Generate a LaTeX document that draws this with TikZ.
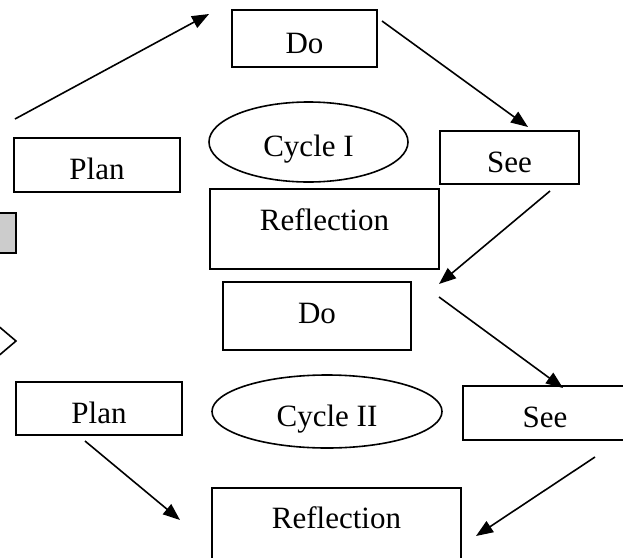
\documentclass[tikz,border=0pt]{standalone}
\usepackage{fontspec}
\setmainfont{Liberation Serif}
\usetikzlibrary{arrows.meta,shapes.geometric}
\tikzset{
  base/.style={draw=black, line width=1.6pt, inner sep=0pt, font=\fontsize{31}{37}\selectfont,
    text height=29pt, text depth=0pt},
  boxnode/.style={base, rectangle},
  ellnode/.style={base, ellipse},
  arr/.style={line width=1.6pt, -{Triangle[length=17pt,width=13pt]}},
  deco/.style={line width=1.6pt, draw=black}
}
\begin{document}
\begin{tikzpicture}[x=1pt, y=-1pt]
\clip (0,0) rectangle (623,557);
\fill[white] (0,0) rectangle (623,557);
% partial shapes at left edge
\draw[deco, fill=gray!40] (-20,213) rectangle (16,253);
\draw[deco] (-30,302) -- (16,341) -- (-30,380);
% nodes
\node[boxnode, minimum width=145pt, minimum height=57pt] (do1) at (304.5,38.5) {Do};
\node[boxnode, minimum width=166pt, minimum height=54pt] (plan1) at (97,165) {Plan};
\node[ellnode, minimum width=199pt, minimum height=80pt] (cyc1) at (308.5,142) {Cycle I};
\node[boxnode, minimum width=139pt, minimum height=53pt] (see1) at (509.5,157.5) {See};
\node[boxnode, minimum width=229pt, minimum height=80pt, text height=21pt, text depth=18.5pt] (refl1) at (324.5,229) {Reflection};
\node[boxnode, minimum width=188pt, minimum height=68pt, text height=21pt, text depth=6.5pt] (do2) at (317,316) {Do};
\node[boxnode, minimum width=166pt, minimum height=53pt] (plan2) at (99,408.5) {Plan};
\node[ellnode, minimum width=230pt, minimum height=73pt] (cyc2) at (327,411.5) {Cycle II};
\node[boxnode, minimum width=164pt, minimum height=54pt] (see2) at (545,413) {See};
\node[boxnode, minimum width=249pt, minimum height=87pt, text height=21pt, text depth=27.5pt] (refl2) at (336.5,531.5) {Reflection};
% arrow end points
\coordinate (a1s) at (15,119);   \coordinate (a1e) at (209,14);
\coordinate (a2s) at (382,21);   \coordinate (a2e) at (528,127);
\coordinate (a3s) at (550,191);  \coordinate (a3e) at (439,284);
\coordinate (a4s) at (439,297);  \coordinate (a4e) at (563,388);
\coordinate (a5s) at (595,457);  \coordinate (a5e) at (476,536);
\coordinate (a6s) at (85,441);   \coordinate (a6e) at (180,520);
\draw[arr] (a1s) -- (a1e);
\draw[arr] (a2s) -- (a2e);
\draw[arr] (a3s) -- (a3e);
\draw[arr] (a4s) -- (a4e);
\draw[arr] (a5s) -- (a5e);
\draw[arr] (a6s) -- (a6e);
\end{tikzpicture}
\end{document}
